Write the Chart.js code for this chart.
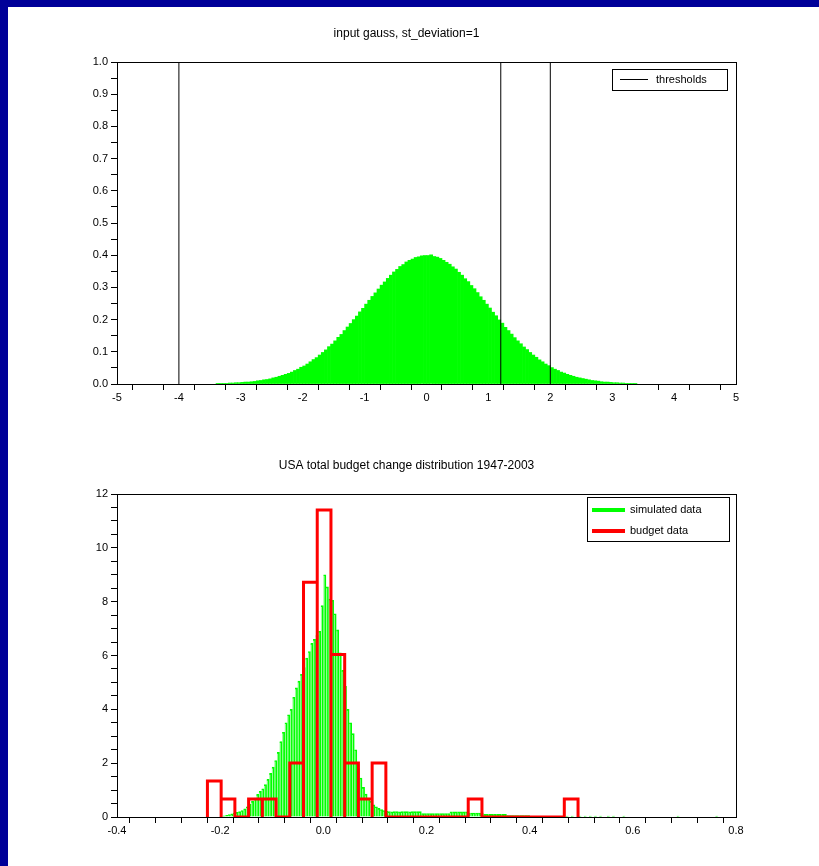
<!DOCTYPE html>
<html>
<head>
<meta charset="utf-8">
<script src="https://cdn.jsdelivr.net/npm/chart.js@4.4.0/dist/chart.umd.min.js"></script>
<style>
  html, body { margin: 0; padding: 0; background: #000099; }
  body { width: 819px; height: 866px; overflow: hidden; position: relative; }
  #sheet { position: absolute; left: 8px; top: 7px; width: 811px; height: 859px; background: #fff; }
  .box { position: absolute; left: 0; width: 811px; }
  #box1 { top: 0; height: 423px; }
  #box2 { top: 423px; height: 436px; }
</style>
</head>
<body>
<div id="sheet">
  <div class="box" id="box1"><canvas id="gaussChart"></canvas></div>
  <div class="box" id="box2"><canvas id="budgetChart"></canvas></div>
</div>
<script>
// --- top chart: input gauss histogram (bins of 0.05 starting at -3.4)
var gaussStart = -3.4;
var gaussWidth = 0.05;
var gaussHeights = [
    0.001, 0.002, 0.002, 0.002, 0.003, 0.003, 0.004, 0.004, 0.005, 0.006,
    0.006, 0.007, 0.008, 0.010, 0.011, 0.013, 0.014, 0.016, 0.019, 0.021,
    0.024, 0.027, 0.030, 0.033, 0.037, 0.042, 0.046, 0.052, 0.056, 0.062,
    0.069, 0.076, 0.082, 0.090, 0.098, 0.106, 0.116, 0.124, 0.134, 0.145,
    0.154, 0.166, 0.177, 0.188, 0.200, 0.211, 0.224, 0.235, 0.248, 0.260,
    0.272, 0.283, 0.295, 0.307, 0.317, 0.328, 0.338, 0.348, 0.356, 0.365,
    0.371, 0.379, 0.384, 0.388, 0.393, 0.395, 0.398, 0.399,
    0.399, 0.401, 0.396, 0.394, 0.390, 0.384, 0.378, 0.372, 0.364, 0.357,
    0.347, 0.338, 0.327, 0.318, 0.306, 0.296, 0.284, 0.271, 0.260, 0.248,
    0.236, 0.223, 0.212, 0.199, 0.189, 0.176, 0.166, 0.155, 0.144, 0.134,
    0.125, 0.115, 0.107, 0.098, 0.090, 0.083, 0.075, 0.069, 0.062, 0.057,
    0.051, 0.046, 0.042, 0.037, 0.034, 0.030, 0.027, 0.024, 0.021, 0.019,
    0.017, 0.015, 0.013, 0.011, 0.010, 0.009, 0.007, 0.006, 0.006, 0.005,
    0.004, 0.004, 0.003, 0.003, 0.002, 0.002, 0.002, 0.001
];
var thresholds = [-4, 1.2, 2];
var gaussXRange = [-5, 5];
var gaussYRange = [0, 1];

// --- bottom chart: simulated data (bins of 0.005 from -0.2) + sparse tail
var simStart = -0.2;
var simWidth = 0.005;
var simHeights = [
    0.02, 0.04, 0.06, 0.09, 0.12, 0.15, 0.17, 0.20, 0.24, 0.30,
    0.38, 0.48, 0.58, 0.70, 0.84, 0.95, 1.05, 1.20, 1.40, 1.62,
    1.85, 2.10, 2.40, 2.80, 3.15, 3.50, 3.80, 4.00, 4.45, 4.80,
    5.05, 5.30, 5.55, 5.90, 6.15, 6.45, 6.60, 6.75, 6.90, 7.85,
    9.00, 8.55, 8.10, 8.05, 7.55, 6.95, 6.10, 5.45, 4.85, 4.00,
    3.50, 3.10, 2.50, 1.80, 1.45, 1.10, 0.85, 0.70, 0.58, 0.45,
    0.38, 0.32, 0.28, 0.24, 0.21, 0.20, 0.19, 0.20, 0.20, 0.19,
    0.20, 0.20, 0.20, 0.19, 0.20, 0.20, 0.20, 0.20, 0.13, 0.13,
    0.13, 0.13, 0.13, 0.13, 0.13, 0.13, 0.13, 0.13, 0.13, 0.19,
    0.19, 0.19, 0.19, 0.19, 0.19, 0.19, 0.15, 0.15, 0.15, 0.15,
    0.15, 0.15, 0.10, 0.10, 0.10, 0.10, 0.10, 0.10, 0.10, 0.10,
    0.10, 0.05, 0.05, 0.05, 0.05, 0.05, 0.05, 0.05, 0.05, 0.05
];
var simTailX = [0.4725, 0.4825, 0.4975, 0.5075, 0.5175, 0.5275, 0.5375, 0.5525, 0.5625, 0.5825, 0.6875, 0.7625];
var simTailY = [0.03, 0.03, 0.03, 0.03, 0.03, 0.03, 0.03, 0.03, 0.03, 0.03, 0.03, 0.03];

// --- bottom chart: budget data (27 bins)
var budgetStart = -0.2247;
var budgetWidth = 0.02661;
var budgetHeights = [
    1.34, 0.67, 0, 0.67, 0.67, 0, 2.01, 8.72, 11.41, 6.04,
    2.01, 0.67, 2.01, 0, 0, 0, 0, 0, 0, 0.67,
    0, 0, 0, 0, 0, 0, 0.67
];
var budgetXRange = [-0.4, 0.8];
var budgetYRange = [0, 12];

Chart.defaults.font.family = "'Liberation Sans', Arial, sans-serif";
Chart.defaults.font.size = 11;
Chart.defaults.color = "#000";

function isMultiple(v, step) {
    var q = v / step;
    return Math.abs(q - Math.round(q)) < 1e-6;
}

// box around the plot area
var framePlugin = {
    id: "frame",
    afterDatasetsDraw: function (chart) {
        var a = chart.chartArea, ctx = chart.ctx;
        ctx.save();
        ctx.strokeStyle = "#000";
        ctx.lineWidth = 1;
        ctx.strokeRect(Math.round(a.left) + 0.5, Math.round(a.top) + 0.5,
            Math.round(a.right - a.left), Math.round(a.bottom - a.top));
        ctx.restore();
    }
};

// scilab style legend: framed box in the upper right corner
var boxLegend = {
    id: "boxLegend",
    afterDraw: function (chart, args, opts) {
        var a = chart.chartArea, ctx = chart.ctx;
        var x = Math.round(a.right - opts.right - opts.width);
        var y = Math.round(a.top + opts.top);
        ctx.save();
        ctx.fillStyle = "#fff";
        ctx.fillRect(x, y, opts.width, opts.height);
        ctx.strokeStyle = "#000";
        ctx.lineWidth = 1;
        ctx.strokeRect(x + 0.5, y + 0.5, opts.width, opts.height);
        ctx.font = "11px 'Liberation Sans', Arial, sans-serif";
        ctx.textBaseline = "middle";
        var i = 0;
        chart.data.datasets.forEach(function (d) {
            if (!d.label) return;
            var ly = y + opts.firstRow + i * opts.rowGap;
            ctx.strokeStyle = d.legendColor || d.borderColor;
            ctx.lineWidth = opts.sampleWidth;
            ctx.beginPath();
            ctx.moveTo(x + opts.sampleLeft, ly);
            ctx.lineTo(x + opts.sampleLeft + opts.sampleLen, ly);
            ctx.stroke();
            ctx.fillStyle = "#000";
            ctx.fillText(d.label, x + opts.textLeft, ly);
            i++;
        });
        ctx.restore();
    }
};

function axisStyle() {
    return {
        grid: { drawOnChartArea: false, tickLength: 6, color: "#000", tickColor: "#000" },
        border: { color: "#000", width: 1 }
    };
}

document.addEventListener("DOMContentLoaded", function () {
    // top chart
    var gaussPoints = gaussHeights.map(function (h, i) {
        return { x: gaussStart + (i + 0.5) * gaussWidth, y: h };
    });
    var thresholdPoints = [];
    thresholds.forEach(function (t) {
        thresholdPoints.push({ x: t, y: gaussYRange[0] }, { x: t, y: gaussYRange[1] }, { x: t, y: null });
    });

    new Chart(document.getElementById("gaussChart"), {
        type: "bar",
        data: {
            datasets: [{
                type: "line",
                label: "thresholds",
                data: thresholdPoints,
                borderColor: "#000",
                borderWidth: 1,
                pointRadius: 0,
                spanGaps: false,
                order: 0
            }, {
                type: "bar",
                data: gaussPoints,
                backgroundColor: "#00ff00",
                borderWidth: 0,
                barPercentage: 1,
                categoryPercentage: 1,
                order: 1
            }]
        },
        options: {
            responsive: true,
            maintainAspectRatio: false,
            animation: false,
            layout: { padding: { left: 69, right: 83, top: 0, bottom: 16 } },
            plugins: {
                legend: { display: false },
                tooltip: { enabled: false },
                title: {
                    display: true,
                    text: "input gauss, st_deviation=1",
                    color: "#000",
                    font: { size: 12, weight: "normal" },
                    padding: { top: 19, bottom: 21.6 }
                },
                boxLegend: {
                    right: 9, top: 7, width: 115, height: 21,
                    firstRow: 10.5, rowGap: 20,
                    sampleLeft: 8, sampleLen: 28, sampleWidth: 1, textLeft: 44
                }
            },
            scales: {
                x: Object.assign(axisStyle(), {
                    type: "linear",
                    min: gaussXRange[0],
                    max: gaussXRange[1],
                    offset: false,
                    ticks: {
                        stepSize: 0.5, autoSkip: false, maxRotation: 0, padding: 1,
                        callback: function (v) { return isMultiple(v, 1) ? String(Math.round(v)) : ""; }
                    },
                    afterFit: function (s) { s.height = 30; }
                }),
                y: Object.assign(axisStyle(), {
                    min: gaussYRange[0],
                    max: gaussYRange[1],
                    ticks: {
                        stepSize: 0.05, autoSkip: false, padding: 3,
                        callback: function (v) { return isMultiple(v, 0.1) ? v.toFixed(1) : ""; }
                    },
                    afterFit: function (s) { s.width = 40; }
                })
            }
        },
        plugins: [framePlugin, boxLegend]
    });

    // bottom chart
    var simPoints = simHeights.map(function (h, i) {
        return { x: simStart + (i + 0.5) * simWidth, y: h };
    });
    simTailX.forEach(function (x, i) { simPoints.push({ x: x, y: simTailY[i] }); });

    // budget histogram drawn as an outline: each bin goes up, across and down again
    var budgetOutline = [];
    budgetHeights.forEach(function (h, i) {
        var left = budgetStart + i * budgetWidth;
        var right = left + budgetWidth;
        budgetOutline.push({ x: left, y: 0 }, { x: left, y: h }, { x: right, y: h }, { x: right, y: 0 });
    });

    new Chart(document.getElementById("budgetChart"), {
        type: "bar",
        data: {
            datasets: [{
                type: "bar",
                label: "simulated data",
                data: simPoints,
                backgroundColor: "rgba(0,255,0,0.4)",
                borderColor: "#00ff00",
                borderWidth: { top: 1, right: 1, bottom: 0, left: 0 },
                barPercentage: 1,
                categoryPercentage: 1,
                order: 2
            }, {
                type: "line",
                label: "budget data",
                data: budgetOutline,
                borderColor: "#ff0000",
                borderWidth: 3,
                borderJoinStyle: "miter",
                pointRadius: 0,
                tension: 0,
                order: 1
            }]
        },
        options: {
            responsive: true,
            maintainAspectRatio: false,
            animation: false,
            layout: { padding: { left: 69, right: 83, top: 0, bottom: 19 } },
            plugins: {
                legend: { display: false },
                tooltip: { enabled: false },
                title: {
                    display: true,
                    text: "USA total budget change distribution 1947-2003",
                    color: "#000",
                    font: { size: 12, weight: "normal" },
                    padding: { top: 28, bottom: 21.6 }
                },
                boxLegend: {
                    right: 7, top: 3, width: 142, height: 44,
                    firstRow: 13, rowGap: 21,
                    sampleLeft: 5, sampleLen: 33, sampleWidth: 4, textLeft: 43
                }
            },
            scales: {
                x: Object.assign(axisStyle(), {
                    type: "linear",
                    min: budgetXRange[0],
                    max: budgetXRange[1],
                    offset: false,
                    ticks: {
                        stepSize: 0.05, autoSkip: false, maxRotation: 0, padding: 1,
                        callback: function (v) {
                            if (Math.abs(v) < 1e-9) v = 0;
                            return isMultiple(v, 0.2) ? v.toFixed(1) : "";
                        }
                    },
                    afterFit: function (s) { s.height = 30; }
                }),
                y: Object.assign(axisStyle(), {
                    min: budgetYRange[0],
                    max: budgetYRange[1],
                    ticks: {
                        stepSize: 0.5, autoSkip: false, padding: 3,
                        callback: function (v) { return isMultiple(v, 2) ? String(Math.round(v)) : ""; }
                    },
                    afterFit: function (s) { s.width = 40; }
                })
            }
        },
        plugins: [framePlugin, boxLegend]
    });
});
</script>
</body>
</html>
